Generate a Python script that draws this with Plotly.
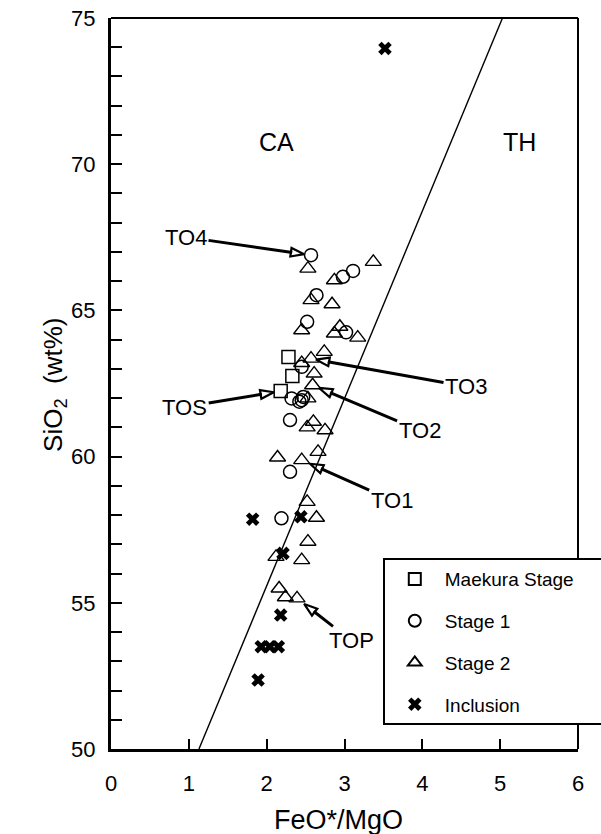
import math
import plotly.graph_objects as go

# ---------------- data ----------------
x_tick_vals = [0, 1, 2, 3, 4, 5, 6]
y_tick_vals = [50, 55, 60, 65, 70, 75]

maekura_x = [2.28, 2.33, 2.18]
maekura_y = [63.41, 62.76, 62.24]

stage1_x = [2.57, 2.98, 3.11, 2.64, 2.52, 3.02, 2.45, 2.32, 2.45, 2.47, 2.42, 2.30, 2.30, 2.19]
stage1_y = [66.89, 66.15, 66.35, 65.52, 64.61, 64.25, 63.07, 61.99, 61.93, 62.04, 61.88, 61.25, 59.48, 57.89]

stage2_x = [2.53, 3.37, 2.87, 2.57, 2.84, 2.45, 2.87, 2.94, 3.17, 2.74, 2.57, 2.45, 2.61, 2.59,
            2.53, 2.60, 2.52, 2.75, 2.66, 2.14, 2.45, 2.52, 2.64, 2.53, 2.12, 2.45, 2.16, 2.24, 2.39]
stage2_y = [66.43, 66.66, 66.03, 65.35, 65.21, 64.32, 64.21, 64.44, 64.07, 63.58, 63.35, 63.20, 62.84, 62.44,
            61.99, 61.19, 61.00, 60.90, 60.16, 59.97, 59.88, 58.45, 57.91, 57.09, 56.57, 56.46, 55.49, 55.19, 55.15]

incl_x = [3.52, 1.82, 2.44, 2.21, 2.18, 1.93, 2.04, 2.15, 1.89]
incl_y = [73.96, 57.86, 57.94, 56.69, 54.58, 53.50, 53.50, 53.50, 52.36]

# CA / TH dividing line (Miyashiro 1974) end points
boundary_x = [1.13, 5.03]
boundary_y = [50, 75]

# labelled samples: (label, series, index)
label_names = ["TO4", "TOS", "TO3", "TO2", "TO1", "TOP"]
label_series = ["s1", "mk", "s2", "s2", "s2", "s2"]
label_index = [0, 2, 10, 13, 20, 28]

# ---------------- layout helpers (px) ----------------
label_ax = [-125, -96, 155, 107, 90, 54]
label_ay = [-18, 16, 28, 45, 40, 42]
tip_gap = [7, 7, 5, 7, 9, 9]
HEAD = 14

series = {"mk": (maekura_x, maekura_y), "s1": (stage1_x, stage1_y), "s2": (stage2_x, stage2_y)}

FONT = "Liberation Sans, Arial, Helvetica, sans-serif"

fig = go.Figure()

fig.add_trace(go.Scatter(x=boundary_x, y=boundary_y, mode="lines",
                         line=dict(color="black", width=1.4), showlegend=False, hoverinfo="skip"))

fig.add_trace(go.Scatter(x=maekura_x, y=maekura_y, mode="markers",
                         name="Maekura Stage" + "\u00a0" * 5, legendgroup="a",
                         marker=dict(symbol="square-open", size=13, color="black", line=dict(width=1.5))))
fig.add_trace(go.Scatter(x=stage1_x, y=stage1_y, mode="markers", name="Stage 1", legendgroup="b",
                         marker=dict(symbol="circle-open", size=13, color="black", line=dict(width=1.5))))
fig.add_trace(go.Scatter(x=stage2_x, y=stage2_y, mode="markers", name="Stage 2", legendgroup="c",
                         marker=dict(symbol="triangle-up-open", size=14, color="black", line=dict(width=1.4))))
fig.add_trace(go.Scatter(x=incl_x, y=incl_y, mode="markers", name="Inclusion", legendgroup="d",
                         marker=dict(symbol="x", size=12, color="black", line=dict(width=0))))

# arrow heads + labels
hx, hy, hang = [], [], []
annotations = []
for name, s, i, ax, ay, g in zip(label_names, label_series, label_index, label_ax, label_ay, tip_gap):
    px, py = series[s][0][i], series[s][1][i]
    hx.append(px)
    hy.append(py)
    hang.append(math.degrees(math.atan2(-ax, ay)))
    annotations.append(dict(x=px, y=py, xref="x", yref="y", text=name, showarrow=True,
                            arrowhead=0, arrowwidth=3, arrowcolor="black", ax=ax, ay=ay,
                            standoff=g + HEAD - 2, font=dict(size=22, color="black", family=FONT)))

fig.add_trace(go.Scatter(x=hx, y=hy, mode="markers", showlegend=False, hoverinfo="skip",
                         marker=dict(symbol="arrow-open", size=HEAD, angle=hang, standoff=tip_gap,
                                     color="black", line=dict(width=2.2, color="black"))))

annotations += [
    dict(x=2.12, y=70.75, xref="x", yref="y", text="CA", showarrow=False,
         font=dict(size=25, color="black", family=FONT)),
    dict(x=5.25, y=70.75, xref="x", yref="y", text="TH", showarrow=False,
         font=dict(size=25, color="black", family=FONT)),
    dict(x=0.488, y=-0.097, xref="paper", yref="paper", text="FeO*/MgO", showarrow=False,
         xanchor="center", yanchor="middle", font=dict(size=27, color="black", family=FONT)),
    dict(x=-0.12, y=0.498, xref="paper", yref="paper", text="SiO<sub>2</sub>  (wt%)", showarrow=False,
         textangle=-90, xanchor="center", yanchor="middle", font=dict(size=26, color="black", family=FONT)),
]

fig.update_layout(
    width=601, height=834,
    margin=dict(l=111, r=23, t=18, b=85, autoexpand=False),
    paper_bgcolor="white", plot_bgcolor="white",
    font=dict(family=FONT, color="black"),
    showlegend=True,
    legend=dict(x=0.582, y=0.261, xanchor="left", yanchor="top",
                bgcolor="white", bordercolor="black", borderwidth=2,
                font=dict(size=19, color="black", family=FONT),
                itemsizing="constant", itemwidth=50, tracegroupgap=14),
    annotations=annotations,
    shapes=[
        dict(type="line", xref="paper", yref="paper", x0=0, x1=1, y0=1, y1=1,
             line=dict(color="black", width=2)),
        dict(type="line", xref="paper", yref="paper", x0=1, x1=1, y0=0, y1=1,
             line=dict(color="black", width=2)),
    ],
)

fig.update_xaxes(range=[0, 6], tickvals=x_tick_vals, ticks="inside", ticklen=10, tickwidth=1.5,
                 tickcolor="black", showline=True, linewidth=3, linecolor="black", showgrid=False,
                 zeroline=False, tickfont=dict(size=22, color="black", family=FONT), ticklabelstandoff=13)
fig.update_yaxes(range=[50, 75], tickvals=y_tick_vals, ticks="inside", ticklen=11, tickwidth=1.5,
                 tickcolor="black", showline=True, linewidth=3, linecolor="black", showgrid=False,
                 zeroline=False, tickfont=dict(size=22, color="black", family=FONT), ticklabelstandoff=8,
                 minor=dict(dtick=1, tick0=50, ticks="inside", ticklen=11, tickwidth=1.5, tickcolor="black"))

fig.write_html("out.html")
